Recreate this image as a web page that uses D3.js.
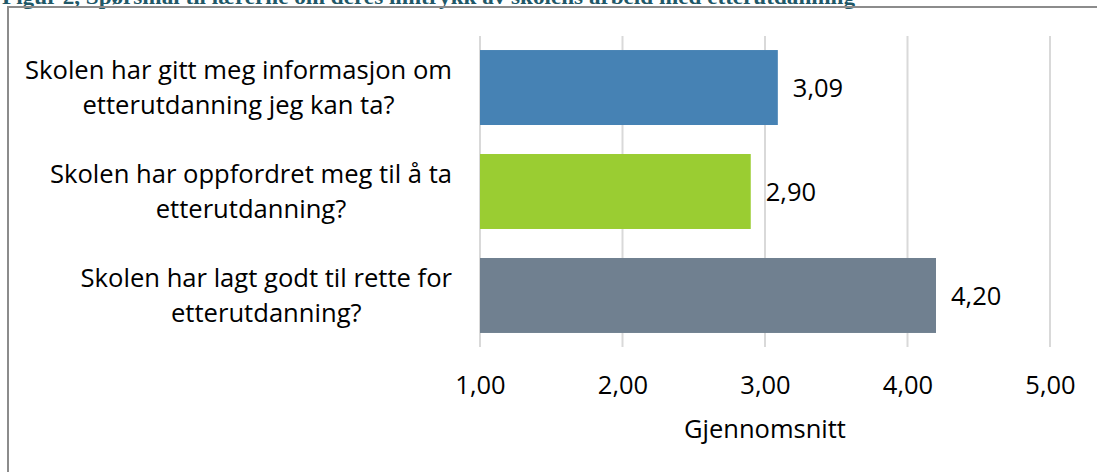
<!DOCTYPE html>
<html>
<head>
<meta charset="utf-8">
<script src="https://cdn.jsdelivr.net/npm/d3@7"></script>
<style>
  body { margin: 0; background: #fff; }
  text { font-family: 'Open Sans', sans-serif; fill: #000; }
</style>
</head>
<body>
<svg class="chart"></svg>
<script>
const graphWidth = 1097;
const graphHeight = 472;

// data
const questions = [
  ['Skolen har gitt meg informasjon om', 'etterutdanning jeg kan ta?'],
  ['Skolen har oppfordret meg til å ta', 'etterutdanning?'],
  ['Skolen har lagt godt til rette for', 'etterutdanning?']
];
const averages = [3.09, 2.9, 4.2];
const barColors = ['steelblue', 'yellowgreen', 'slategray'];
const tickValues = [1, 2, 3, 4, 5];
const axisTitle = 'Gjennomsnitt';
const figureTitle = 'Figur 2, Spørsmål til lærerne om deres inntrykk av skolens arbeid med etterutdanning';

const fmt = v => v.toFixed(2).replace('.', ',');

const svg = d3
  .select('.chart')
  .attr('width', graphWidth)
  .attr('height', graphHeight);

// figure caption, cut off at the top like the source
svg
  .append('text')
  .attr('x', 2)
  .attr('y', 4)
  .attr('textLength', 853)
  .attr('lengthAdjust', 'spacingAndGlyphs')
  .style('font-family', "'Liberation Serif', serif")
  .style('font-weight', 'bold')
  .style('font-size', '20px')
  .style('fill', '#215868')
  .text(figureTitle);

// chart frame
svg
  .append('rect')
  .attr('x', 8)
  .attr('y', 7)
  .attr('width', graphWidth + 20)
  .attr('height', graphHeight + 20)
  .attr('fill', 'none')
  .attr('stroke', '#8c8c8c')
  .attr('stroke-width', 2);

const x = d3.scaleLinear().domain([1, 5]).range([480, 1050]);
const y = d3
  .scaleBand()
  .domain(d3.range(questions.length))
  .range([36, 347])
  .paddingInner(0.279)
  .paddingOuter(0.135);

// gridlines
svg
  .append('g')
  .selectAll('line')
  .data(tickValues)
  .enter()
  .append('line')
  .attr('x1', d => x(d))
  .attr('x2', d => x(d))
  .attr('y1', 36)
  .attr('y2', 347)
  .attr('stroke', '#d9d9d9')
  .attr('stroke-width', 2);

// bars
svg
  .append('g')
  .selectAll('rect')
  .data(averages)
  .enter()
  .append('rect')
  .attr('x', x(1))
  .attr('y', (d, i) => y(i))
  .attr('width', d => x(d) - x(1))
  .attr('height', y.bandwidth())
  .attr('fill', (d, i) => barColors[i]);

// value labels
svg
  .append('g')
  .selectAll('text')
  .data(averages)
  .enter()
  .append('text')
  .attr('x', d => x(d) + 15)
  .attr('y', (d, i) => y(i) + y.bandwidth() / 2)
  .attr('dy', '0.36em')
  .style('font-size', '25.5px')
  .text(d => fmt(d));

// category labels, widest line right-aligned, others centred on it
const labelRight = 452;
const cats = svg.append('g');
questions.forEach((lines, i) => {
  const g = cats.append('g');
  const cy = y(i) + y.bandwidth() / 2;
  const texts = lines.map((line, j) =>
    g
      .append('text')
      .attr('y', cy + (j - (lines.length - 1) / 2) * 35)
      .attr('dy', '0.36em')
      .attr('text-anchor', 'middle')
      .style('font-size', '25.6px')
      .text(line)
  );
  const widest = d3.max(texts, t => t.node().getComputedTextLength());
  texts.forEach(t => t.attr('x', labelRight - widest / 2));
});

// x axis
const axis = svg
  .append('g')
  .attr('transform', 'translate(0,376)')
  .call(
    d3
      .axisBottom(x)
      .tickValues(tickValues)
      .tickSize(0)
      .tickPadding(0)
      .tickFormat(fmt)
  );
axis.select('.domain').remove();
axis
  .selectAll('text')
  .attr('dy', '0.71em')
  .style('font-size', '25.5px')
  .style('font-family', "'Open Sans', sans-serif")
  .attr('fill', '#000');

svg
  .append('text')
  .attr('x', (x(1) + x(5)) / 2)
  .attr('y', 438)
  .attr('text-anchor', 'middle')
  .style('font-size', '25.5px')
  .text(axisTitle);
</script>
</body>
</html>
